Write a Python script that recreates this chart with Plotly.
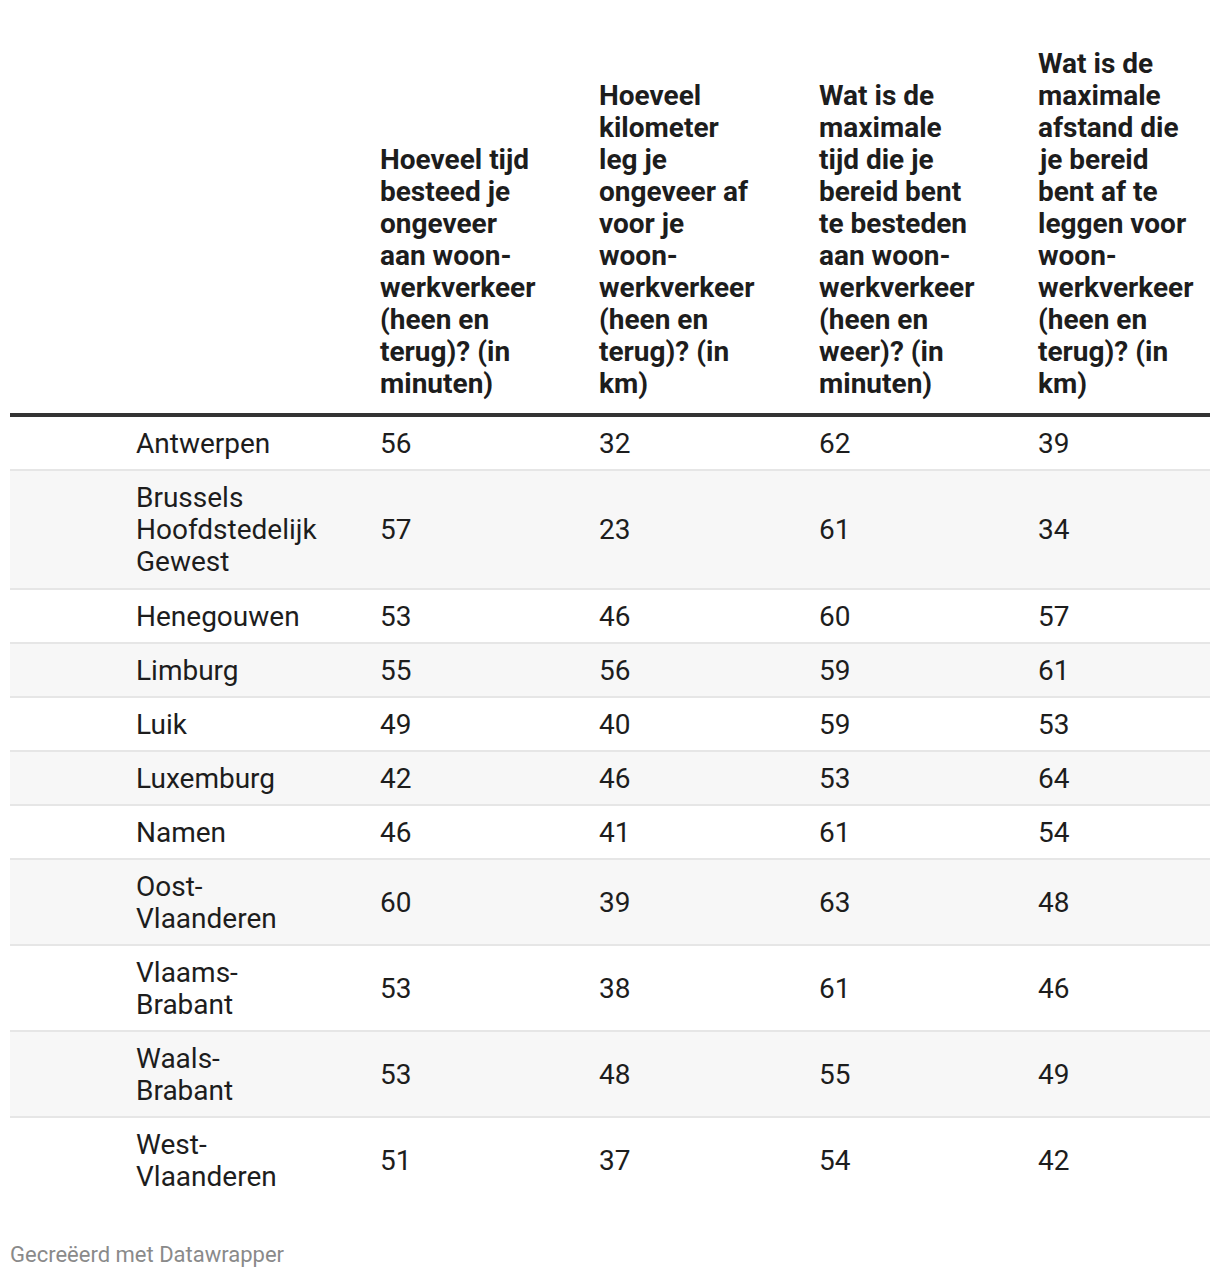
import plotly.graph_objects as go

# Data
regions = [
    "Antwerpen",
    "Brussels\nHoofdstedelijk\nGewest",
    "Henegouwen",
    "Limburg",
    "Luik",
    "Luxemburg",
    "Namen",
    "Oost-\nVlaanderen",
    "Vlaams-\nBrabant",
    "Waals-\nBrabant",
    "West-\nVlaanderen",
]
headers = [
    "Hoeveel tijd\nbesteed je\nongeveer\naan woon-\nwerkverkeer\n(heen en\nterug)? (in\nminuten)",
    "Hoeveel\nkilometer\nleg je\nongeveer af\nvoor je\nwoon-\nwerkverkeer\n(heen en\nterug)? (in\nkm)",
    "Wat is de\nmaximale\ntijd die je\nbereid bent\nte besteden\naan woon-\nwerkverkeer\n(heen en\nweer)? (in\nminuten)",
    "Wat is de\nmaximale\nafstand die\nje bereid\nbent af te\nleggen voor\nwoon-\nwerkverkeer\n(heen en\nterug)? (in\nkm)",
]
tijd_nu = [56, 57, 53, 55, 49, 42, 46, 60, 53, 53, 51]
km_nu = [32, 23, 46, 56, 40, 46, 41, 39, 38, 48, 37]
tijd_max = [62, 61, 60, 59, 59, 53, 61, 63, 61, 55, 54]
km_max = [39, 34, 57, 61, 53, 64, 54, 48, 46, 49, 42]
columns = [tijd_nu, km_nu, tijd_max, km_max]
footer = "Gecreëerd met Datawrapper"

# Layout constants (pixels, page coordinates)
W, H = 1220, 1278
PAGE_MARGIN = 8  # default body margin of the html page
LEFT, RIGHT = 10, 1210
TEXT_PAD = 3  # annotation inner padding
LABEL_X = 137
COL_X0, COL_STEP = 381, 219.33
LINE_H = 32
ROW_PAD = 22
HEADER_BOTTOM = 383
RULE_Y = 415
FONT = "Roboto"
FS = 28
TXT = "#1d1d1d"

fig = go.Figure()
shapes = []
annotations = []


def add_lines(x, y_center, text, bold=False, anchor_bottom=False, y_bottom=None):
    lines = text.split("\n")
    n = len(lines)
    for i, ln in enumerate(lines):
        if anchor_bottom:
            y = y_bottom - (n - 1 - i) * LINE_H
        else:
            y = y_center + (i - (n - 1) / 2) * LINE_H
        annotations.append(dict(
            x=x - TEXT_PAD, y=y, xref="x", yref="y", text=f"<b>{ln}</b>" if bold else ln,
            showarrow=False, xanchor="left", yanchor="middle",
            font=dict(family=FONT, size=FS, color=TXT),
        ))


# header
for j, h in enumerate(headers):
    add_lines(COL_X0 + j * COL_STEP, None, h, bold=True, anchor_bottom=True, y_bottom=HEADER_BOTTOM)

# rows
top = RULE_Y + 1
for i, reg in enumerate(regions):
    n = len(reg.split("\n"))
    h = ROW_PAD + LINE_H * n + (1 if n == 3 else 0)
    if i % 2 == 1:
        shapes.append(dict(type="rect", xref="x", yref="y", x0=LEFT, x1=RIGHT, y0=top, y1=top + h,
                           fillcolor="#f7f7f7", line=dict(width=0), layer="below"))
    if i > 0:
        shapes.append(dict(type="line", xref="x", yref="y", x0=LEFT, x1=RIGHT, y0=top, y1=top,
                           line=dict(color="#e6e6e6", width=2)))
    yc = top + h / 2
    add_lines(LABEL_X, yc, reg)
    for j, col in enumerate(columns):
        add_lines(COL_X0 + j * COL_STEP, yc, str(col[i]))
    top += h

shapes.append(dict(type="line", xref="x", yref="y", x0=LEFT, x1=RIGHT, y0=RULE_Y, y1=RULE_Y,
                   line=dict(color="#333333", width=4)))

annotations.append(dict(
    x=LEFT - TEXT_PAD + 1, y=1254, xref="x", yref="y", text=footer, showarrow=False,
    xanchor="left", yanchor="middle", font=dict(family=FONT, size=22, color="#8a8a8a"),
))

fig.update_layout(
    width=W - PAGE_MARGIN, height=H - PAGE_MARGIN,
    margin=dict(l=0, r=0, t=0, b=0),
    paper_bgcolor="white", plot_bgcolor="white",
    xaxis=dict(range=[PAGE_MARGIN, W], visible=False, fixedrange=True),
    yaxis=dict(range=[H, PAGE_MARGIN], visible=False, fixedrange=True),
    shapes=shapes, annotations=annotations,
    showlegend=False,
)

fig.write_html("out.html", config={"displayModeBar": False})
